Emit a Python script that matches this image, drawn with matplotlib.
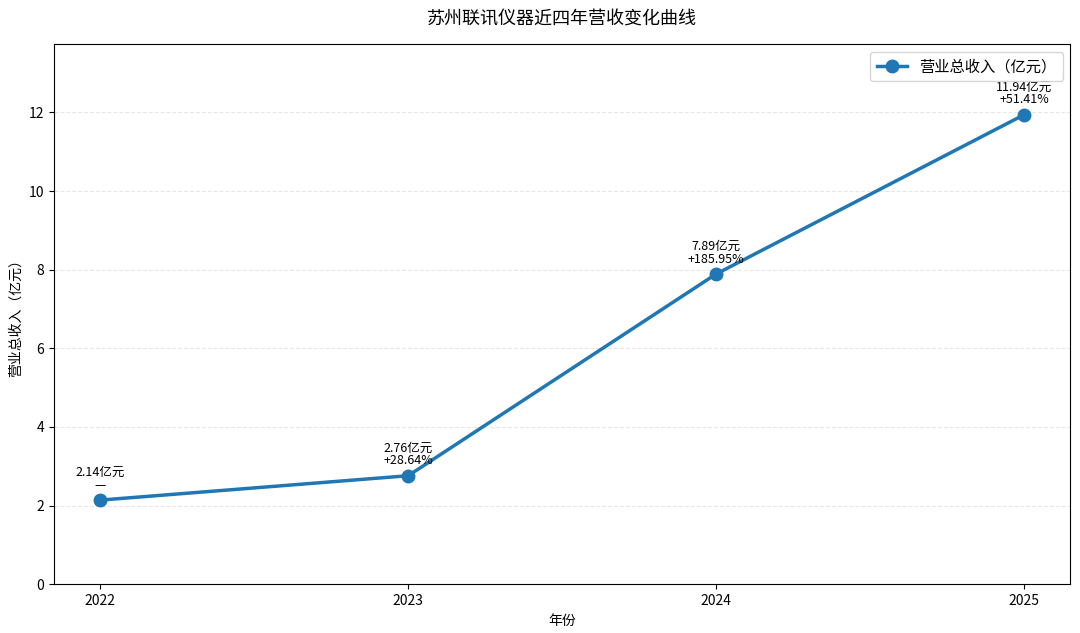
import matplotlib
matplotlib.use('Agg')
import matplotlib.pyplot as plt

plt.rcParams['font.family'] = ['Noto Sans CJK SC', 'DejaVu Sans']
plt.rcParams['axes.unicode_minus'] = False

years = ['2022', '2023', '2024', '2025']
revenue = [2.14, 2.76, 7.89, 11.94]
growth = ['—', '+28.64%', '+185.95%', '+51.41%']

fig, ax = plt.subplots(figsize=(10.8, 6.33), dpi=100)
x = list(range(len(years)))
ax.plot(x, revenue, marker='o', linewidth=2.5, markersize=9, color='#1f77b4',
        label='营业总收入（亿元）')

for i, v in enumerate(revenue):
    ax.annotate(f'{v:.2f}亿元\n{growth[i]}', (x[i], v), textcoords='offset points',
                xytext=(0, 6), ha='center', va='bottom', fontsize=9, linespacing=1.0)

ax.set_xticks(x)
ax.set_xticklabels(years)
ax.set_ylim(0, max(revenue) * 1.15)
ax.set_xlabel('年份', fontsize=10)
ax.set_ylabel('营业总收入（亿元）', fontsize=10)
ax.set_title('苏州联讯仪器近四年营收变化曲线', fontsize=13, pad=14)
ax.grid(axis='y', linestyle='--', alpha=0.3)
ax.legend(loc='upper right', fontsize=11)

fig.subplots_adjust(left=0.05, right=0.991, top=0.930, bottom=0.077)
fig.savefig('out.png', dpi=100)
